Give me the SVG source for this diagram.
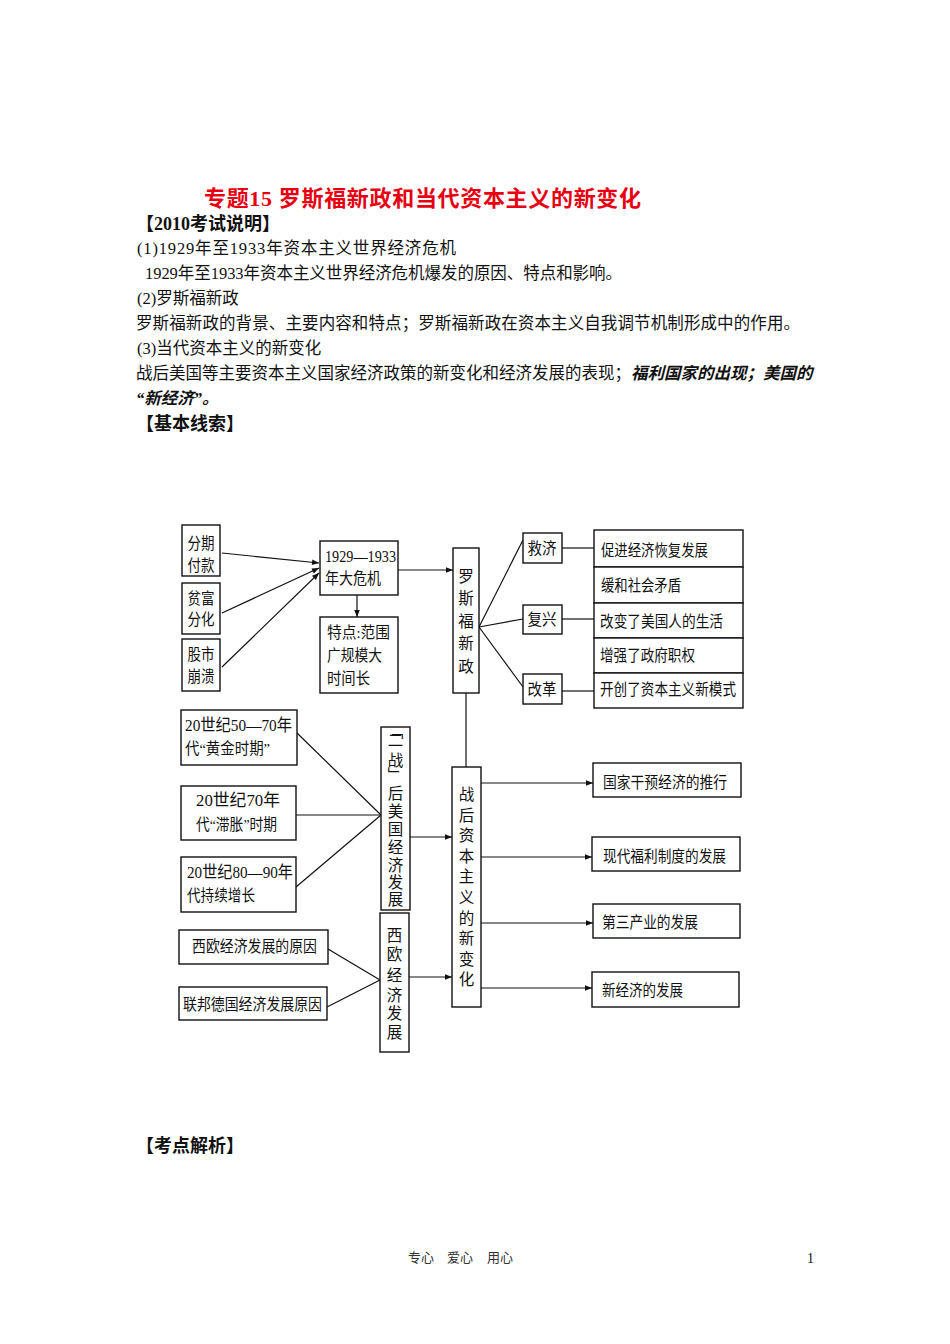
<svg xmlns="http://www.w3.org/2000/svg" width="950" height="1344" viewBox="0 0 950 1344">
<defs>
<marker id="ah" viewBox="0 0 10 10" refX="10" refY="5" markerWidth="8" markerHeight="7" markerUnits="userSpaceOnUse" orient="auto">
<path d="M0,1 L10,5 L0,9 z" fill="#111"/>
</marker>
</defs>
<style>
.t{font-family:"Liberation Serif","Noto Sans CJK SC",serif;fill:#111}
.body{font-size:16.5px}
.h{font-size:18px;font-weight:bold}
.title{font-size:22px;font-weight:bold;fill:#e60012}
.bi{font-weight:bold;font-style:italic}
.box{fill:#fff;stroke:#111;stroke-width:1.4}
.n{font-family:"Liberation Serif","Noto Sans CJK SC",serif;font-size:15.5px;fill:#111}
.n.d{font-size:17.5px}
.m{text-anchor:middle}
.c{fill:none;stroke:#111;stroke-width:1.2}
.ca{fill:none;stroke:#111;stroke-width:1.2;marker-end:url(#ah)}
.foot{font-size:13px;fill:#333}
</style>
<rect width="950" height="1344" fill="#fff"/>

<g id="header">
<text class="t title" x="204" y="206" textLength="437" lengthAdjust="spacing">专题15 罗斯福新政和当代资本主义的新变化</text>
<text class="t h" x="136" y="230">【2010考试说明】</text>
<text class="t body" x="137" y="254" textLength="319" lengthAdjust="spacing">(1)1929年至1933年资本主义世界经济危机</text>
<text class="t body" x="145" y="279" textLength="477" lengthAdjust="spacing">1929年至1933年资本主义世界经济危机爆发的原因、特点和影响。</text>
<text class="t body" x="137" y="304">(2)罗斯福新政</text>
<text class="t body" x="136" y="329" textLength="664" lengthAdjust="spacing">罗斯福新政的背景、主要内容和特点；罗斯福新政在资本主义自我调节机制形成中的作用。</text>
<text class="t body" x="137" y="354">(3)当代资本主义的新变化</text>
<text class="t body" x="136" y="379">战后美国等主要资本主义国家经济政策的新变化和经济发展的表现；<tspan class="bi">福利国家的出现；美国的</tspan></text>
<text class="t body bi" x="136" y="404">“新经济”。</text>
<text class="t h" x="136" y="430">【基本线索】</text>
<text class="t h" x="136" y="1152">【考点解析】</text>
<text class="t foot" x="408" y="1262">专心</text>
<text class="t foot" x="447" y="1262">爱心</text>
<text class="t foot" x="487" y="1262">用心</text>
<text class="t" x="807" y="1263" font-size="14">1</text>
</g>

<g id="connectors">
<path class="ca" d="M222,553 L319,563"/>
<path class="ca" d="M222,613 L319,568"/>
<path class="ca" d="M222,667 L319,573"/>
<path class="ca" d="M357,595 L357,617"/>
<path class="ca" d="M398,570 L453,570"/>
<path class="c" d="M479,627 L523,540"/>
<path class="c" d="M479,627 L523,619"/>
<path class="c" d="M479,627 L523,687"/>
<path class="c" d="M562,548 L594,548"/>
<path class="c" d="M562,619 L594,619"/>
<path class="c" d="M562,691 L594,691"/>
<path class="c" d="M466,693 L466,767"/>
<path class="c" d="M297,733 L381,815"/>
<path class="c" d="M296,815 L381,815"/>
<path class="c" d="M296,887 L381,815"/>
<path class="ca" d="M410,837 L452,837"/>
<path class="c" d="M328,949 L380,980"/>
<path class="c" d="M327,1007 L380,980"/>
<path class="ca" d="M409,977 L452,977"/>
<path class="ca" d="M481,783 L593,783"/>
<path class="ca" d="M481,857 L592,857"/>
<path class="ca" d="M481,923 L593,923"/>
<path class="ca" d="M481,988 L592,988"/>
</g>

<g id="n-fenqi">
<rect class="box" x="182" y="525" width="38" height="51"/>
<text class="n m" x="201" y="549" textLength="27" lengthAdjust="spacingAndGlyphs">分期</text>
<text class="n m" x="201" y="571" textLength="27" lengthAdjust="spacingAndGlyphs">付款</text>
</g>
<g id="n-pinfu">
<rect class="box" x="182" y="583" width="38" height="51"/>
<text class="n m" x="201" y="604" textLength="27" lengthAdjust="spacingAndGlyphs">贫富</text>
<text class="n m" x="201" y="625" textLength="27" lengthAdjust="spacingAndGlyphs">分化</text>
</g>
<g id="n-gushi">
<rect class="box" x="182" y="639" width="38" height="52"/>
<text class="n m" x="201" y="660" textLength="27" lengthAdjust="spacingAndGlyphs">股市</text>
<text class="n m" x="201" y="682" textLength="27" lengthAdjust="spacingAndGlyphs">崩溃</text>
</g>
<g id="n-crisis">
<rect class="box" x="320" y="541" width="78" height="54"/>
<text class="n d" x="325" y="562" textLength="71" lengthAdjust="spacingAndGlyphs">1929—1933</text>
<text class="n" x="325" y="584" textLength="56" lengthAdjust="spacingAndGlyphs">年大危机</text>
</g>
<g id="n-tedian">
<rect class="box" x="320" y="617" width="78" height="76"/>
<text class="n" x="327" y="638" textLength="63" lengthAdjust="spacingAndGlyphs">特点:范围</text>
<text class="n" x="327" y="661" textLength="55" lengthAdjust="spacingAndGlyphs">广规模大</text>
<text class="n" x="327" y="684" textLength="43" lengthAdjust="spacingAndGlyphs">时间长</text>
</g>
<g id="n-newdeal">
<rect class="box" x="453" y="548" width="26" height="145"/>
<text class="n m" x="466 466 466 466 466" y="582 604 627 649 672">罗斯福新政</text>
</g>
<g id="n-jiuji">
<rect class="box" x="523" y="533" width="39" height="30"/>
<text class="n m" x="542" y="554" textLength="29" lengthAdjust="spacingAndGlyphs">救济</text>
</g>
<g id="n-fuxing">
<rect class="box" x="523" y="605" width="39" height="29"/>
<text class="n m" x="542" y="625" textLength="29" lengthAdjust="spacingAndGlyphs">复兴</text>
</g>
<g id="n-gaige">
<rect class="box" x="523" y="674" width="39" height="30"/>
<text class="n m" x="542" y="695" textLength="29" lengthAdjust="spacingAndGlyphs">改革</text>
</g>
<g id="n-r1">
<rect class="box" x="594" y="530" width="149" height="37"/>
<text class="n" x="601" y="556" textLength="107" lengthAdjust="spacingAndGlyphs">促进经济恢复发展</text>
</g>
<g id="n-r2">
<rect class="box" x="594" y="567" width="149" height="36"/>
<text class="n" x="601" y="591" textLength="80" lengthAdjust="spacingAndGlyphs">缓和社会矛盾</text>
</g>
<g id="n-r3">
<rect class="box" x="594" y="603" width="149" height="35"/>
<text class="n" x="600" y="627" textLength="123" lengthAdjust="spacingAndGlyphs">改变了美国人的生活</text>
</g>
<g id="n-r4">
<rect class="box" x="594" y="638" width="149" height="35"/>
<text class="n" x="600" y="661" textLength="95" lengthAdjust="spacingAndGlyphs">增强了政府职权</text>
</g>
<g id="n-r5">
<rect class="box" x="594" y="673" width="149" height="35"/>
<text class="n" x="600" y="695" textLength="136" lengthAdjust="spacingAndGlyphs">开创了资本主义新模式</text>
</g>

<g id="n-golden">
<rect class="box" x="181" y="710" width="116" height="55"/>
<text class="n d" x="185" y="731" textLength="107" lengthAdjust="spacingAndGlyphs">20世纪50—70年</text>
<text class="n" x="185" y="754" textLength="85" lengthAdjust="spacingAndGlyphs">代“黄金时期”</text>
</g>
<g id="n-stag">
<rect class="box" x="181" y="786" width="115" height="54"/>
<text class="n d" x="196" y="806" textLength="84" lengthAdjust="spacingAndGlyphs">20世纪70年</text>
<text class="n" x="196" y="830" textLength="81" lengthAdjust="spacingAndGlyphs">代“滞胀”时期</text>
</g>
<g id="n-growth">
<rect class="box" x="181" y="857" width="115" height="55"/>
<text class="n d" x="187" y="878" textLength="106" lengthAdjust="spacingAndGlyphs">20世纪80—90年</text>
<text class="n" x="187" y="901" textLength="68" lengthAdjust="spacingAndGlyphs">代持续增长</text>
</g>
<g id="n-usecon">
<rect class="box" x="381" y="727" width="29" height="183"/>
<text class="n m" x="395.5 395.5 395.5 395.5 395.5 395.5 395.5 395.5 395.5 395.5 395.5" y="737 746 766 781 799 817 835 853 871 888 905">﹁二战﹂后美国经济发展</text>
</g>
<g id="n-weureason">
<rect class="box" x="179" y="930" width="149" height="34"/>
<text class="n" x="192" y="952" textLength="125" lengthAdjust="spacingAndGlyphs">西欧经济发展的原因</text>
</g>
<g id="n-frg">
<rect class="box" x="179" y="987" width="148" height="33"/>
<text class="n" x="183" y="1010" textLength="139" lengthAdjust="spacingAndGlyphs">联邦德国经济发展原因</text>
</g>
<g id="n-weurope">
<rect class="box" x="380" y="913" width="29" height="139"/>
<text class="n m" x="394.5 394.5 394.5 394.5 394.5 394.5" y="941 960 981 1001 1019 1038">西欧经济发展</text>
</g>
<g id="n-postwar">
<rect class="box" x="452" y="767" width="29" height="240"/>
<text class="n m" x="466.5 466.5 466.5 466.5 466.5 466.5 466.5 466.5 466.5 466.5" y="800 820.6 841.2 861.8 882.4 903 923.6 944.2 964.8 985.4">战后资本主义的新变化</text>
</g>
<g id="n-interv">
<rect class="box" x="593" y="763" width="148" height="34"/>
<text class="n" x="603" y="788" textLength="124" lengthAdjust="spacingAndGlyphs">国家干预经济的推行</text>
</g>
<g id="n-welfare">
<rect class="box" x="592" y="837" width="148" height="34"/>
<text class="n" x="603" y="862" textLength="123" lengthAdjust="spacingAndGlyphs">现代福利制度的发展</text>
</g>
<g id="n-tertiary">
<rect class="box" x="593" y="904" width="147" height="34"/>
<text class="n" x="602" y="928" textLength="96" lengthAdjust="spacingAndGlyphs">第三产业的发展</text>
</g>
<g id="n-neweco">
<rect class="box" x="592" y="972" width="147" height="35"/>
<text class="n" x="602" y="996" textLength="81" lengthAdjust="spacingAndGlyphs">新经济的发展</text>
</g>
</svg>
